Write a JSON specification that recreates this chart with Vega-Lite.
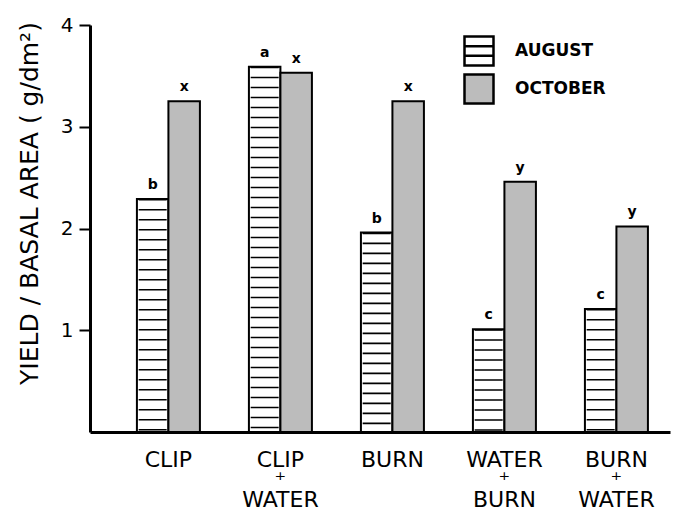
{
  "$schema": "https://vega.github.io/schema/vega-lite/v6.json",
  "width": 580,
  "height": 407,
  "autosize": {"type": "none"},
  "padding": {"left": 90, "top": 25, "right": 15, "bottom": 77},
  "background": "white",
  "config": {
    "view": {"stroke": null},
    "font": "DejaVu Sans"
  },
  "data": {
    "values": [
      {"treatment": "CLIP", "month": "AUGUST", "value": 2.29, "letter": "b"},
      {"treatment": "CLIP", "month": "OCTOBER", "value": 3.25, "letter": "x"},
      {"treatment": "CLIP + WATER", "month": "AUGUST", "value": 3.59, "letter": "a"},
      {"treatment": "CLIP + WATER", "month": "OCTOBER", "value": 3.53, "letter": "x"},
      {"treatment": "BURN", "month": "AUGUST", "value": 1.96, "letter": "b"},
      {"treatment": "BURN", "month": "OCTOBER", "value": 3.25, "letter": "x"},
      {"treatment": "WATER + BURN", "month": "AUGUST", "value": 1.01, "letter": "c"},
      {"treatment": "WATER + BURN", "month": "OCTOBER", "value": 2.46, "letter": "y"},
      {"treatment": "BURN + WATER", "month": "AUGUST", "value": 1.21, "letter": "c"},
      {"treatment": "BURN + WATER", "month": "OCTOBER", "value": 2.02, "letter": "y"}
    ]
  },
  "encoding": {
    "x": {
      "field": "treatment",
      "type": "nominal",
      "sort": ["CLIP", "CLIP + WATER", "BURN", "WATER + BURN", "BURN + WATER"],
      "scale": {"paddingInner": 0.4375, "paddingOuter": 0.308, "align": 0.68},
      "title": null,
      "axis": {
        "domainWidth": 3,
        "domainColor": "black",
        "ticks": false,
        "tickSize": 0,
        "labelPadding": 17,
        "labelFont": "DejaVu Sans",
        "labelFontSize": 22,
        "labelColor": "black",
        "labelAngle": 0,
        "labelLineHeight": 20,
        "labelOverlap": false,
        "labelBound": false,
        "labelLimit": 300,
        "labelExpr": "indexof(datum.label, ' + ') > 0 ? [split(datum.label, ' + ')[0], '\u207a', split(datum.label, ' + ')[1]] : datum.label"
      }
    },
    "xOffset": {
      "field": "month",
      "type": "nominal",
      "scale": {"paddingInner": 0, "paddingOuter": 0}
    },
    "y": {
      "field": "value",
      "type": "quantitative",
      "scale": {"domain": [0, 4], "nice": false},
      "title": "YIELD / BASAL AREA ( g/dm\u00b2)",
      "axis": {
        "values": [1, 2, 3, 4],
        "grid": false,
        "domainWidth": 3,
        "domainColor": "black",
        "tickColor": "black",
        "tickWidth": 2,
        "tickSize": 11,
        "labelFont": "DejaVu Sans",
        "labelFontSize": 20,
        "labelColor": "black",
        "labelPadding": 6,
        "titleFont": "DejaVu Sans",
        "titleFontSize": 25,
        "titleFontWeight": "normal",
        "titleColor": "black",
        "titleAngle": -90,
        "titleAlign": "center",
        "titleBaseline": "middle",
        "titleX": -61,
        "titleY": 178
      }
    }
  },
  "layer": [
    {
      "mark": {"type": "bar", "stroke": "black", "strokeWidth": 2},
      "encoding": {
        "fill": {
          "field": "month",
          "type": "nominal",
          "scale": {"domain": ["AUGUST", "OCTOBER"], "range": ["white", "#bcbcbc"]},
          "legend": {
            "title": null,
            "orient": "none",
            "legendX": 373,
            "legendY": 10,
            "padding": 0,
            "symbolSize": 841,
            "symbolOpacity": 1,
            "symbolStrokeColor": "black",
            "symbolStrokeWidth": 2.5,
            "labelFont": "DejaVu Sans",
            "labelFontSize": 17,
            "labelFontWeight": "bold",
            "labelColor": "black",
            "labelOffset": 20,
            "rowPadding": -2
          }
        }
      }
    },
    {
      "transform": [{"filter": "datum.month === 'AUGUST'"}],
      "mark": {"type": "rule", "color": "black", "strokeWidth": 28, "strokeDash": [1.6, 8.4], "strokeCap": "butt"},
      "encoding": {"y2": {"datum": 0}}
    },
    {
      "mark": {"type": "point", "filled": true, "opacity": 0, "stroke": "black", "strokeWidth": 2.5},
      "encoding": {
        "shape": {
          "field": "month",
          "type": "nominal",
          "scale": {"domain": ["AUGUST", "OCTOBER"], "range": ["M-1,-1H1V1H-1Z M-1,-0.33H1 M-1,0.33H1", "square"]},
          "legend": {"title": null}
        }
      }
    },
    {
      "mark": {"type": "text", "dy": -10, "baseline": "alphabetic", "font": "DejaVu Sans", "fontWeight": "bold", "fontSize": 14, "color": "black"},
      "encoding": {"text": {"field": "letter"}}
    }
  ]
}
